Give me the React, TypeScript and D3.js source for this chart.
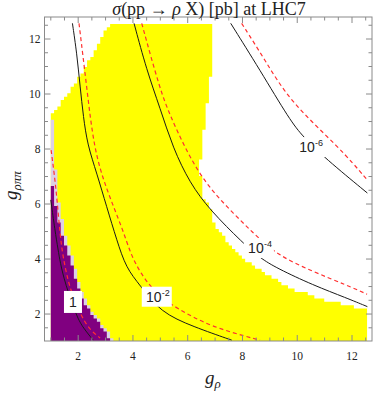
import React from 'react';
import * as d3 from 'd3';

type P = [number, number];

const X_DOMAIN: P = [0.77, 12.73];
const Y_DOMAIN: P = [1.02, 12.8];
const xTicks = [2, 4, 6, 8, 10, 12];
const yTicks = [2, 4, 6, 8, 10, 12];

// Regions (data coordinates, g_rho vs g_rhopipi)
const yellowRegion: P[] = [
  [3.16, 12.56], [6.935, 12.56], [6.935, 11.6], [6.84, 11.6], [6.84, 10.58], [6.75, 10.58],
  [6.75, 9.71], [6.63, 9.71], [6.63, 8.69], [6.51, 8.69], [6.45, 6.98], [6.56, 6.98],
  [6.56, 6.25], [6.81, 5.89], [6.92, 5.42], [7.11, 5.05], [7.42, 4.69], [7.65, 4.33],
  [7.97, 4.08], [8.27, 3.85], [8.52, 3.67], [8.89, 3.42], [9.37, 3.17], [9.74, 2.93],
  [10.1, 2.81], [10.35, 2.75], [10.77, 2.57], [11.14, 2.45], [11.56, 2.39], [12.05, 2.27],
  [12.56, 2.21], [12.56, 1.0], [1.0, 1.0], [1.0, 9.16], [1.4, 9.71], [1.76, 10.22],
  [1.99, 10.51], [2.55, 11.48], [2.92, 12.15], [3.04, 12.39],
];
const lavenderRegion: P[] = [
  [1.0, 1.0], [1.0, 9.1], [1.1, 9.1], [1.1, 7.3], [1.2, 7.2], [1.25, 6.5], [1.3, 6.1],
  [1.4, 5.5], [1.56, 4.7], [1.74, 4.25], [1.86, 3.85], [1.98, 3.36], [2.17, 2.76],
  [2.41, 2.27], [2.65, 1.9], [2.96, 1.54], [3.2, 1.17], [3.28, 1.0],
];
const purpleRegion: P[] = [
  [1.0, 1.0], [1.0, 6.76], [1.05, 6.76], [1.15, 6.08], [1.27, 5.49], [1.46, 4.69],
  [1.64, 4.25], [1.76, 3.85], [1.88, 3.36], [2.07, 2.76], [2.31, 2.27], [2.55, 1.9],
  [2.86, 1.54], [3.1, 1.17], [3.18, 1.0],
];

// Contours: black solid and red dashed
const c1Black: P[] = [[1.0, 6.15], [1.15, 5.05], [1.27, 4.32], [1.34, 3.89], [1.52, 3.12], [1.95, 1.89], [2.19, 1.49], [2.55, 1.05]];
const c1Red: P[] = [[1.01, 7.96], [1.12, 7.16], [1.23, 6.15], [1.34, 4.87], [1.45, 4.04], [1.7, 2.87], [2.13, 1.89], [2.43, 1.42], [2.8, 1.13]];
const c2Black: P[] = [[1.79, 12.57], [1.95, 11.48], [2.07, 10.27], [2.19, 9.17], [2.34, 8.15], [2.68, 7.12], [3.04, 5.9], [3.41, 4.69], [3.75, 3.67], [4.26, 3.05], [4.99, 2.07], [6.2, 1.54], [7.61, 1.05]];
const c2Red: P[] = [[2.03, 12.57], [2.31, 10.27], [2.58, 7.96], [3.04, 6.51], [3.64, 5.05], [3.89, 4.25], [4.26, 3.49], [4.92, 2.65], [5.6, 2.22], [6.81, 1.54], [8.64, 1.05]];
const c4Black: P[] = [[4.04, 12.57], [4.5, 10.87], [4.99, 9.49], [5.46, 8.04], [6.08, 6.76], [6.81, 5.78], [8.02, 4.58], [8.64, 4.04], [9.25, 3.67], [10.58, 3.05], [11.81, 2.58], [12.56, 2.27]];
const c4Red: P[] = [[4.32, 12.57], [4.99, 10.15], [5.35, 9.24], [5.9, 8.04], [6.56, 6.87], [7.42, 5.9], [8.39, 4.95], [9.25, 4.15], [10.58, 3.54], [11.81, 3.05], [12.55, 2.72]];
const c6Black: P[] = [[7.57, 12.57], [8.64, 10.87], [9.73, 9.05], [10.21, 8.45], [11.01, 7.67], [12.56, 6.4]];
const c6Red: P[] = [[7.97, 12.57], [8.82, 11.24], [9.73, 9.72], [11.56, 8.04], [12.56, 6.87]];

const labelBase = ['1', '10', '10', '10'];
const labelExp = ['', '-2', '-4', '-6'];
const labelPos: P[] = [[1.81, 2.44], [4.87, 2.63], [8.6, 4.4], [10.47, 8.07]];

function rasterPath(poly: P[], x: d3.ScaleLinear<number, number>, y: d3.ScaleLinear<number, number>) {
  const nx = 96, ny = 96;
  const x0 = 1.0, x1 = 12.55, y0 = 1.0, y1 = 12.55;
  const dx = (x1 - x0) / nx, dy = (y1 - y0) / ny;
  let d = '';
  for (let j = 0; j < ny; j++) {
    const cy = y0 + (j + 0.5) * dy;
    let start = -1;
    for (let i = 0; i <= nx; i++) {
      const inside = i < nx && d3.polygonContains(poly, [x0 + (i + 0.5) * dx, cy]);
      if (inside && start < 0) start = i;
      if (!inside && start >= 0) {
        const xa = x(x0 + start * dx), xb = x(x0 + i * dx);
        const ya = y(y0 + (j + 1) * dy), yb = y(y0 + j * dy);
        d += `M${xa},${ya}H${xb}V${yb}H${xa}Z`;
        start = -1;
      }
    }
  }
  return d;
}

export default function App() {
  const left = 44.5, right = 372, top = 17, bottom = 341;
  const x = d3.scaleLinear().domain(X_DOMAIN).range([left, right]);
  const y = d3.scaleLinear().domain(Y_DOMAIN).range([bottom, top]);
  const line = d3.line<P>().x(d => x(d[0])).y(d => y(d[1])).curve(d3.curveBasis);

  const minorX = d3.range(1, 12.51, 0.5);
  const minorY = d3.range(1.5, 12.51, 0.5);
  const frameColor = '#8a8a8a';

  const serif = '"Liberation Serif", "DejaVu Serif", serif';
  const sans = '"Liberation Sans", Arial, sans-serif';

  return (
    <svg width={382} height={395} style={{ position: 'absolute', left: 0, top: 0, background: '#fff' }}>
      <defs>
        <clipPath id="frameClip">
          <rect x={left} y={top} width={right - left} height={bottom - top} />
        </clipPath>
      </defs>
      <g clipPath="url(#frameClip)">
        <path d={rasterPath(yellowRegion, x, y)} fill="#ffff00" />
        <path d={rasterPath(lavenderRegion, x, y)} fill="#ddd0e4" />
        <path d={rasterPath(purpleRegion, x, y)} fill="#800080" />
        {[c1Black, c2Black, c4Black, c6Black].map((c, i) => (
          <path key={'b' + i} d={line(c) || ''} fill="none" stroke="#1a1a1a" strokeWidth={1} />
        ))}
        {[c1Red, c2Red, c4Red, c6Red].map((c, i) => (
          <path key={'r' + i} d={line(c) || ''} fill="none" stroke="#ff3030" strokeWidth={1.2} strokeDasharray="4,3" />
        ))}
        {labelBase.map((b, i) => {
          const cx = x(labelPos[i][0]), cy = y(labelPos[i][1]);
          const w = labelExp[i] ? 30 : 18;
          const h = labelExp[i] ? 20 : 22;
          return (
            <g key={'l' + i}>
              <rect x={cx - w / 2} y={cy - h / 2} width={w} height={h} fill="#fff" />
              <text x={labelExp[i] ? cx - 3 : cx} y={cy + 5} textAnchor="middle" fontFamily={sans} fontSize={14} fill="#222">
                {b}
              </text>
              {labelExp[i] && (
                <text x={cx + 5} y={cy - 1} textAnchor="start" fontFamily={sans} fontSize={9} fill="#222">
                  {labelExp[i]}
                </text>
              )}
            </g>
          );
        })}
      </g>
      {/* frame */}
      <rect x={left} y={top} width={right - left} height={bottom - top} fill="none" stroke={frameColor} strokeWidth={1} />
      {minorX.map(v => {
        const major = xTicks.includes(v);
        const len = major ? 6 : 3.5;
        return (
          <g key={'tx' + v}>
            <line x1={x(v)} x2={x(v)} y1={bottom} y2={bottom - len} stroke={frameColor} />
            <line x1={x(v)} x2={x(v)} y1={top} y2={top + len} stroke={frameColor} />
          </g>
        );
      })}
      {minorY.map(v => {
        const major = yTicks.includes(v);
        const len = major ? 6 : 3.5;
        return (
          <g key={'ty' + v}>
            <line x1={left} x2={left + len} y1={y(v)} y2={y(v)} stroke={frameColor} />
            <line x1={right} x2={right - len} y1={y(v)} y2={y(v)} stroke={frameColor} />
          </g>
        );
      })}
      {xTicks.map(v => (
        <text key={'xl' + v} x={x(v)} y={359.5} textAnchor="middle" fontFamily={serif} fontSize={11.5} fill="#222">{v}</text>
      ))}
      {yTicks.map(v => (
        <text key={'yl' + v} x={40.5} y={y(v) + 4} textAnchor="end" fontFamily={serif} fontSize={11.5} fill="#222">{v}</text>
      ))}
      <text x={209} y={15} textAnchor="middle" fontFamily={serif} fontSize={18} fill="#222">
        <tspan fontStyle="italic">σ</tspan>(pp → <tspan fontStyle="italic">ρ</tspan> X) [pb] at LHC7
      </text>
      <text x={205} y={384} fontFamily={serif} fontSize={19} fontStyle="italic" fill="#222">
        g<tspan fontSize={13} dy={4}>ρ</tspan>
      </text>
      <text transform="translate(17,200) rotate(-90)" fontFamily={serif} fontSize={19} fontStyle="italic" fill="#222">
        g<tspan fontSize={13} dy={4}>ρππ</tspan>
      </text>
    </svg>
  );
}
